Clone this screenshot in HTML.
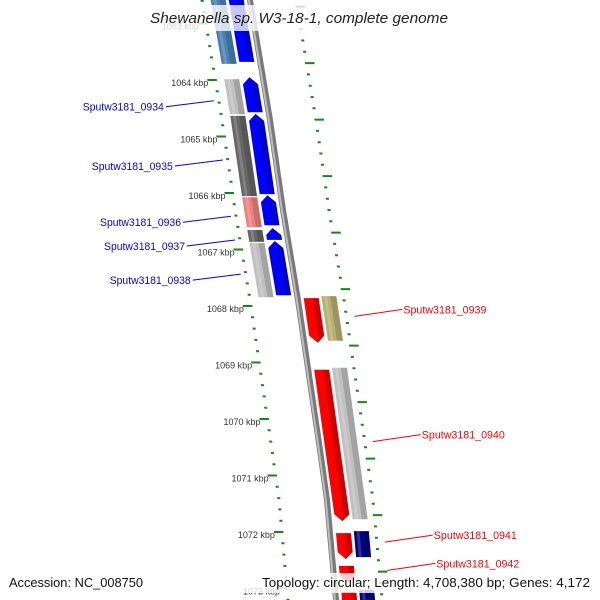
<!DOCTYPE html>
<html><head><meta charset="utf-8"><style>
html,body{margin:0;padding:0;background:#fff;width:600px;height:600px;overflow:hidden}
svg{display:block;font-family:"Liberation Sans",sans-serif}
</style></head><body>
<svg id="chart" width="600" height="600" viewBox="0 0 600 600" xmlns="http://www.w3.org/2000/svg">
<g id="ruler"></g>
<g id="backbone"></g>
<g id="features"></g>
<g id="labels"></g>
<rect x="0" y="5" width="600" height="26" fill="#fff" fill-opacity="0.78"/>
<text x="150" y="23" font-size="15" font-style="italic" fill="#222" textLength="298" lengthAdjust="spacingAndGlyphs">Shewanella sp. W3-18-1, complete genome</text>
<rect x="0" y="573" width="600" height="20" fill="#fff" fill-opacity="0.8"/>
<text x="9" y="587" font-size="13" fill="#111" textLength="134" lengthAdjust="spacingAndGlyphs">Accession: NC_008750</text>
<text x="590" y="587" font-size="13" fill="#111" text-anchor="end" textLength="328" lengthAdjust="spacingAndGlyphs">Topology: circular; Length: 4,708,380 bp; Genes: 4,172</text>
</svg>
<script>
// ---- data ----
const rulerKbp = [1063,1064,1065,1066,1067,1068,1069,1070,1071,1072,1073];
const rulerLabels = ["1063 kbp","1064 kbp","1065 kbp","1066 kbp","1067 kbp","1068 kbp","1069 kbp","1070 kbp","1071 kbp","1072 kbp","1073 kbp"];
const fwdNames = ["","Sputw3181_0934","Sputw3181_0935","Sputw3181_0936","Sputw3181_0937","Sputw3181_0938"];
const fwdStart = [1062.3,1063.95,1064.60,1066.04,1066.62,1066.85];
const fwdEnd   = [1063.68,1064.57,1066.02,1066.57,1066.83,1067.81];
const fwdCog   = ["#4a80b4","#c0c0c0","#666666","#f08080","#666666","#c0c0c0"];
const revNames = ["Sputw3181_0939","Sputw3181_0940","Sputw3181_0941","Sputw3181_0942",""];
const revStart = [1067.86,1069.13,1072.02,1072.60,1073.06];
const revEnd   = [1068.65,1071.81,1072.48,1072.90,1073.5];
const revCog   = ["#b8b070","#c0c0c0","#000080","#ffffff","#000080"];

// ---- geometry ----
const NS="http://www.w3.org/2000/svg";
const bbPts=[[-20,246],[0,250],[120,270],[210,283],[300,298],[450,320],[500,327],[600,336],[620,338]];
function bx(y){for(let i=0;i<bbPts.length-1;i++){const a=bbPts[i],b=bbPts[i+1];if(y<=b[0]){return a[1]+(b[1]-a[1])*(y-a[0])/(b[0]-a[0]);}}return bbPts[bbPts.length-1][1];}
function yOf(k){return 80+(k-1064)*56.5;}
function mk(tag,attrs,parent){const e=document.createElementNS(NS,tag);for(const k in attrs)e.setAttribute(k,attrs[k]);parent.appendChild(e);return e;}
function P(y,o){return (bx(y)+o).toFixed(1)+","+y.toFixed(1);}
function band(y1,y2,o1,o2){return [P(y1,o1),P(y1,o2),P(y2,o2),P(y2,o1)].join(" ");}

// backbone
const bb=document.getElementById('backbone');
let d="";for(let y=-10;y<=610;y+=5){d+=(y===-10?"M":"L")+bx(y).toFixed(1)+","+y;}
let e=mk('path',{d:d,stroke:"#7a7a7a","stroke-width":6,fill:"none"},bb);


e=mk('path',{d:d,stroke:"#bdbdbd","stroke-width":2,fill:"none",transform:"translate(-1.2,0)"},bb);



// rulers
const ru=document.getElementById('ruler');
const LO=-48, RO=46;
for(let k=1062;k<=1074;k+=0.2){const y=yOf(k);if(y<-5||y>605)continue;
  const major=Math.abs(k-Math.round(k))<0.01;
  e=mk('polygon',{points:band(y-1,y+1,major?LO-8:LO-1.5,LO+1.5),fill:"#138a13"},ru);
  
  
}
for(let k=1062.7;k<=1074;k+=0.2){const y=yOf(k);if(y<-5||y>605)continue;
  const major=Math.abs((k-0.7)-Math.round(k-0.7))<0.01;
  e=mk('polygon',{points:band(y-1,y+1,RO-1.5,major?RO+8:RO+1.5),fill:"#138a13"},ru);
  
  
}
rulerKbp.forEach((k,i)=>{const y=yOf(k);
  e=mk('text',{x:(bx(y)+LO-7).toFixed(1),y:(y+6).toFixed(1),"font-size":9,fill:"#333","text-anchor":"end"},ru);
  e.textContent=rulerLabels[i];
  
  
});

// features
const fe=document.getElementById('features');
function block(y1,y2,o1,o2,col,name){
  e=mk('polygon',{points:band(y1,y2,o1,o2),fill:col},fe);
  
  
  const w=o2-o1;
  mk('polygon',{points:band(y1,y2,o1+w*0.6,o2),fill:"#000","fill-opacity":0.15},fe);
  mk('polygon',{points:band(y1,y2,o1+w*0.18,o1+w*0.38),fill:"#fff","fill-opacity":0.18},fe);
}
function arrow(y1,y2,o1,o2,col,up,name){
  const h=Math.min(7,(y2-y1)*0.6), m=(o1+o2)/2;
  let pts;
  if(up){pts=[P(y1,m),P(y1+h,o2),P(y2,o2),P(y2,o1),P(y1+h,o1)];}
  else{pts=[P(y1,o1),P(y1,o2),P(y2-h,o2),P(y2,m),P(y2-h,o1)];}
  e=mk('polygon',{points:pts.join(" "),fill:col},fe);
  
  
  const w=o2-o1;
  if(up){pts=[P(y1,m),P(y1+h,o2),P(y2,o2),P(y2,o1+w*0.6),P(y1+h,o1+w*0.6)];}
  else{pts=[P(y1,o1+w*0.6),P(y1,o2),P(y2-h,o2),P(y2,m),P(y2-h,o1+w*0.6)];}
  mk('polygon',{points:pts.join(" "),fill:"#000","fill-opacity":0.18},fe);
}
const lab=document.getElementById('labels');
fwdStart.forEach((s,i)=>{const y1=yOf(s),y2=yOf(fwdEnd[i]);
  block(y1+2,y2+2,-39,-24,fwdCog[i],'cog-block-fwd');
  arrow(y1,y2,-21,-6,"#0000ff",true,'cds-fwd-'+(fwdNames[i]||'prev'));
  if(fwdNames[i]){const ys=(y1+y2)/2+6, lx=bx(ys)-53;
    e=mk('line',{x1:lx.toFixed(1),y1:ys.toFixed(1),x2:(lx-48).toFixed(1),y2:(ys+6).toFixed(1),stroke:"#0000ff","stroke-width":1},lab);
    
    
    e=mk('text',{x:(lx-50).toFixed(1),y:(ys+10).toFixed(1),"font-size":11,fill:"#0000ff","text-anchor":"end",textLength:81,lengthAdjust:"spacingAndGlyphs"},lab);
    e.textContent=fwdNames[i];
    
    
  }
});
revStart.forEach((s,i)=>{const y1=yOf(s),y2=yOf(revEnd[i]);
  arrow(y1,y2,6,21,"#ff0000",false,'cds-rev-'+(revNames[i]||'next'));
  if(revCog[i]!=="#ffffff")block(y1-2,y2-2,24,39,revCog[i],'cog-block-rev');
  if(revNames[i]){const ys=(y1+y2)/2-4, rx=bx(ys)+54;
    e=mk('line',{x1:rx.toFixed(1),y1:ys.toFixed(1),x2:(rx+48).toFixed(1),y2:(ys-7).toFixed(1),stroke:"#ff0000","stroke-width":1},lab);
    
    
    e=mk('text',{x:(rx+49).toFixed(1),y:(ys-3).toFixed(1),"font-size":11,fill:"#ff0000",textLength:83,lengthAdjust:"spacingAndGlyphs"},lab);
    e.textContent=revNames[i];
    
    
  }
});
</script>
</body></html>
